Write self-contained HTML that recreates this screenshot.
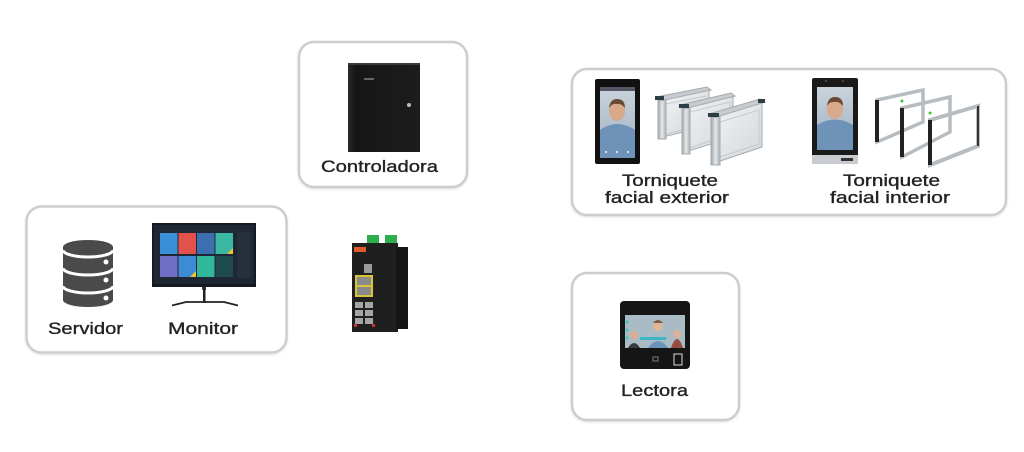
<!DOCTYPE html>
<html><head><meta charset="utf-8"><style>
html,body{margin:0;padding:0;background:#fff;}
svg{display:block;}
text{font-family:"Liberation Sans",sans-serif;fill:#222;stroke:#222;stroke-width:0.35px;}
</style></head><body>
<svg width="1024" height="452" viewBox="0 0 1024 452" xmlns="http://www.w3.org/2000/svg">
<defs>
<linearGradient id="glass" x1="0" y1="0" x2="1" y2="1"><stop offset="0" stop-color="#f3f5f6"/><stop offset="1" stop-color="#d2d6d9"/></linearGradient>
<linearGradient id="post" x1="0" y1="0" x2="1" y2="0"><stop offset="0" stop-color="#9da3a8"/><stop offset="0.5" stop-color="#e6e9eb"/><stop offset="1" stop-color="#aab0b4"/></linearGradient>
<linearGradient id="scr" x1="0" y1="0" x2="0" y2="1"><stop offset="0" stop-color="#c9d3db"/><stop offset="1" stop-color="#9fb1c2"/></linearGradient>
<linearGradient id="cab" x1="0" y1="0" x2="1" y2="0"><stop offset="0" stop-color="#2a2a2a"/><stop offset="0.1" stop-color="#161616"/><stop offset="1" stop-color="#1c1c1c"/></linearGradient>
<filter id="sh" x="-5%" y="-5%" width="110%" height="115%"><feDropShadow dx="0" dy="1" stdDeviation="1" flood-color="#000" flood-opacity="0.12"/></filter>
</defs>

<!-- Boxes -->
<g fill="#fff" stroke="#cdcdcd" stroke-width="2.5" filter="url(#sh)">
<rect x="26.5" y="206.5" width="260" height="146" rx="15"/>
<rect x="299" y="42" width="168" height="145" rx="15"/>
<rect x="572" y="69" width="434" height="146" rx="15"/>
<rect x="572" y="273" width="167" height="147" rx="15"/>
</g>

<!-- Server icon -->
<g>
<path d="M63,247 A25,7 0 0 1 113,247 L113,300 A25,7 0 0 1 63,300 Z" fill="#4a4a4a"/>
<path d="M63,250 A25,7 0 0 0 113,250" fill="none" stroke="#fff" stroke-width="3"/>
<path d="M63,268 A25,7 0 0 0 113,268" fill="none" stroke="#fff" stroke-width="3"/>
<path d="M63,286 A25,7 0 0 0 113,286" fill="none" stroke="#fff" stroke-width="3"/>
<circle cx="106" cy="262" r="2.5" fill="#fff"/>
<circle cx="106" cy="280" r="2.5" fill="#fff"/>
<circle cx="106" cy="298" r="2.5" fill="#fff"/>
</g>

<!-- Monitor -->
<g>
<rect x="152" y="223" width="104" height="64" fill="#151a22"/>
<rect x="154" y="225" width="100" height="59" fill="#1e2733"/>
<rect x="160" y="233" width="17.5" height="21" fill="#3a8fd6"/>
<rect x="178.5" y="233" width="17.5" height="21" fill="#e0524a"/>
<rect x="197" y="233" width="17.5" height="21" fill="#3d6fb0"/>
<rect x="215.5" y="233" width="17.5" height="21" fill="#3bb8a4"/>
<path d="M227,254 L233,248 L233,254Z" fill="#f2c230"/>
<rect x="160" y="256" width="17.5" height="21" fill="#6f6fc7"/>
<rect x="178.5" y="256" width="17.5" height="21" fill="#3d8ad6"/>
<path d="M190,277 L196,271 L196,277Z" fill="#f2c230"/>
<rect x="197" y="256" width="17.5" height="21" fill="#2fb89a"/>
<rect x="215.5" y="256" width="17.5" height="21" fill="#1f4a4f"/>
<rect x="237" y="232" width="14" height="46" fill="#26303c"/>
<rect x="202" y="287" width="4" height="3" fill="#555"/>
<rect x="203" y="287" width="2.5" height="16" fill="#222"/>
<path d="M172,305.5 L186,302 L224,302 L238,305.5" fill="none" stroke="#222" stroke-width="1.8"/>
</g>

<!-- Controladora cabinet -->
<g>
<rect x="348" y="63" width="72" height="89" fill="url(#cab)"/>
<rect x="348" y="63" width="72" height="2" fill="#3a3a3a"/>
<rect x="364" y="78" width="10" height="2" fill="#666"/>
<circle cx="409" cy="105" r="2" fill="#bbb"/>
</g>

<!-- Switch -->
<g>
<rect x="367" y="235" width="12" height="9" fill="#2fae4e"/>
<rect x="385" y="235" width="12" height="9" fill="#2fae4e"/>
<rect x="352" y="243" width="46" height="89" fill="#1f1f1f"/>
<rect x="396" y="247" width="12" height="82" fill="#151515"/>
<rect x="354" y="247" width="12" height="5" fill="#e25a2c"/>
<rect x="364" y="264" width="8" height="9" fill="#9a9a9a"/>
<rect x="355" y="275" width="18" height="22" fill="#d9c33a"/>
<rect x="357" y="277" width="14" height="8" fill="#8a8a8a"/>
<rect x="357" y="287" width="14" height="8" fill="#8a8a8a"/>
<rect x="355" y="302" width="8" height="6" fill="#a5a5a5"/>
<rect x="365" y="302" width="8" height="6" fill="#a5a5a5"/>
<rect x="355" y="310" width="8" height="6" fill="#a5a5a5"/>
<rect x="365" y="310" width="8" height="6" fill="#a5a5a5"/>
<rect x="355" y="318" width="8" height="6" fill="#a5a5a5"/>
<rect x="365" y="318" width="8" height="6" fill="#a5a5a5"/>
<rect x="354" y="324" width="3" height="3" fill="#c33"/>
<rect x="372" y="324" width="3" height="3" fill="#c33"/>
</g>

<!-- Exterior terminal -->
<g>
<rect x="595" y="79" width="45" height="85" rx="2" fill="#111"/>
<rect x="600" y="87" width="35" height="71" fill="url(#scr)"/>
<rect x="600" y="87" width="35" height="4" fill="#556"/>
<path d="M600,158 L600,130 Q617,118 635,130 L635,158Z" fill="#6f92b8"/>
<ellipse cx="617" cy="111" rx="8" ry="10" fill="#d8a98a"/>
<path d="M609,108 Q610,99 617,99 Q625,99 625,108 Q621,103 617,104 Q612,103 609,108Z" fill="#6a4a35"/>
<circle cx="606" cy="152" r="1" fill="#fff"/><circle cx="617" cy="152" r="1" fill="#fff"/><circle cx="628" cy="152" r="1" fill="#fff"/>
</g>

<!-- Exterior turnstile -->
<g stroke="#a4aaae" stroke-width="1">
<polygon points="658,99 709,89 709,126 658,138" fill="url(#glass)"/>
<polygon points="666,104 706,96 706,124 666,134" fill="none" stroke="#c4c9cc"/>
<rect x="658" y="99" width="8" height="40" fill="url(#post)"/>
<polygon points="656,97 707,87 711,90 660,101" fill="#c8ccd0"/>
<rect x="655" y="96" width="9" height="4" fill="#2d3d45" stroke="none"/>
<polygon points="682,107 733,95 733,137 682,153" fill="url(#glass)"/>
<polygon points="690,112 730,102 730,134 690,148" fill="none" stroke="#c4c9cc"/>
<rect x="682" y="107" width="8" height="47" fill="url(#post)"/>
<polygon points="680,105 731,93 735,96 684,109" fill="#c8ccd0"/>
<rect x="679" y="104" width="10" height="4" fill="#2d3d45" stroke="none"/>
<polygon points="711,116 762,101 762,147 711,164" fill="url(#glass)"/>
<polygon points="720,122 759,110 759,144 720,157" fill="none" stroke="#c4c9cc"/>
<rect x="711" y="116" width="9" height="49" fill="url(#post)"/>
<polygon points="709,114 760,99 765,102 714,118" fill="#c8ccd0"/>
<rect x="708" y="113" width="11" height="4" fill="#2d3d45" stroke="none"/>
<rect x="758" y="99" width="7" height="4" fill="#2d3d45" stroke="none"/>
</g>

<!-- Interior terminal -->
<g>
<rect x="812" y="78" width="46" height="86" rx="2" fill="#1a1a1a"/>
<rect x="812" y="155" width="46" height="9" fill="#c8ccd0"/>
<rect x="841" y="158" width="12" height="3" fill="#333"/>
<rect x="817" y="87" width="36" height="63" fill="url(#scr)"/>
<path d="M817,150 L817,125 Q835,114 853,125 L853,150Z" fill="#6f92b8"/>
<ellipse cx="835" cy="109" rx="8" ry="10" fill="#d8a98a"/>
<path d="M827,106 Q828,97 835,97 Q843,97 843,106 Q839,101 835,102 Q830,101 827,106Z" fill="#6a4a35"/>
<circle cx="826" cy="81" r="1" fill="#555"/><circle cx="843" cy="81" r="1" fill="#555"/>
</g>

<!-- Interior turnstile -->
<g fill="none" stroke-linejoin="miter">
<polygon points="877,100 923,90 923,122 877,142" stroke="#b7bcc0" stroke-width="3.5"/>
<line x1="877" y1="100" x2="877" y2="142" stroke="#222" stroke-width="4"/>
<polygon points="902,108 950,97 950,132 902,157" stroke="#b7bcc0" stroke-width="3.5"/>
<line x1="902" y1="108" x2="902" y2="157" stroke="#222" stroke-width="4"/>
<polygon points="930,120 978,106 978,146 930,165" stroke="#b7bcc0" stroke-width="4"/>
<line x1="930" y1="120" x2="930" y2="165" stroke="#222" stroke-width="4"/>
<line x1="978" y1="106" x2="978" y2="146" stroke="#333" stroke-width="2"/>
<circle cx="902" cy="101" r="1.5" fill="#3c3" stroke="none"/>
<circle cx="930" cy="113" r="1.5" fill="#3c3" stroke="none"/>
</g>

<!-- Lectora device -->
<g>
<rect x="620" y="301" width="70" height="68" rx="4" fill="#151515"/>
<rect x="625" y="315" width="60" height="33" fill="#a9bcc6"/>
<path d="M628,348 Q634,338 640,348Z" fill="#3a3a3a"/>
<circle cx="634" cy="335" r="4" fill="#d9ae94"/>
<path d="M648,348 Q658,334 668,348Z" fill="#6a93bb"/>
<circle cx="658" cy="326" r="5" fill="#e0b59a"/>
<path d="M653,323 Q658,317 663,323Z" fill="#7a5a45"/>
<circle cx="677" cy="334" r="4" fill="#dcb09a"/>
<path d="M671,348 Q677,330 683,348Z" fill="#9a4a3e"/>
<rect x="640" y="337" width="26" height="3" fill="#3fb3c8"/>
<circle cx="627" cy="322" r="1.5" fill="#3cb" /><circle cx="627" cy="330" r="1.5" fill="#3cb"/><circle cx="627" cy="338" r="1.5" fill="#3cb"/>
<rect x="674" y="354" width="8" height="11" fill="none" stroke="#ddd" stroke-width="1"/>
<rect x="653" y="357" width="5" height="4" fill="none" stroke="#999" stroke-width="0.8"/>
</g>

<!-- Labels -->
<text x="48" y="334" font-size="16.5" textLength="75" lengthAdjust="spacingAndGlyphs">Servidor</text>
<text x="168" y="334" font-size="16.5" textLength="70" lengthAdjust="spacingAndGlyphs">Monitor</text>
<text x="321" y="172" font-size="16.5" textLength="117" lengthAdjust="spacingAndGlyphs">Controladora</text>
<text x="622" y="186" font-size="16.5" textLength="96" lengthAdjust="spacingAndGlyphs">Torniquete</text>
<text x="605" y="203" font-size="16.5" textLength="124" lengthAdjust="spacingAndGlyphs">facial exterior</text>
<text x="843" y="186" font-size="16.5" textLength="97" lengthAdjust="spacingAndGlyphs">Torniquete</text>
<text x="830" y="203" font-size="16.5" textLength="120" lengthAdjust="spacingAndGlyphs">facial interior</text>
<text x="621" y="396" font-size="16.5" textLength="67" lengthAdjust="spacingAndGlyphs">Lectora</text>
</svg>
</body></html>
